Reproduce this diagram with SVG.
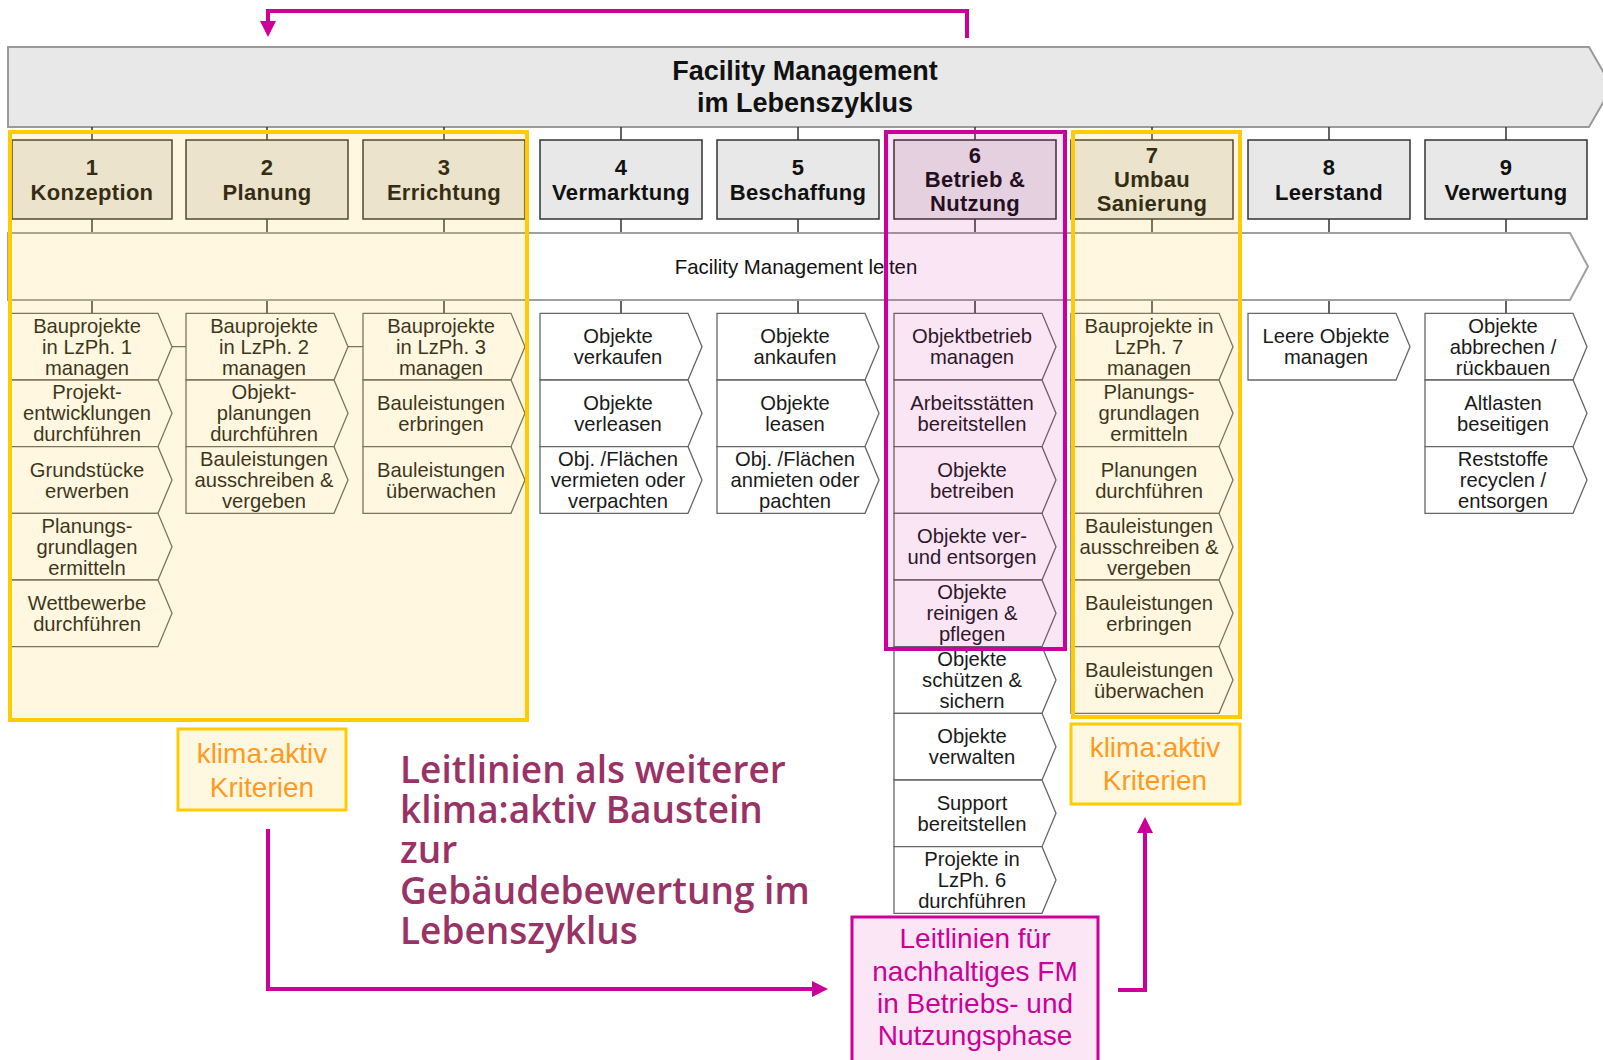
<svg xmlns="http://www.w3.org/2000/svg" width="1603" height="1060" viewBox="0 0 1603 1060">
<defs>
<style>
.hdr{fill:#e8e8e8;stroke:#9a9a9a;stroke-width:2}
.hdrt{font-family:"Liberation Sans",Arial,sans-serif;font-weight:bold;font-size:27px;fill:#111;text-anchor:middle}
.ph{fill:#e8e8e8;stroke:#333;stroke-width:1.5}
.pht{font-family:"Liberation Sans",Arial,sans-serif;font-weight:bold;font-size:22px;letter-spacing:0.3px;fill:#111;text-anchor:middle}
.band{fill:#fff;stroke:#a0a0a0;stroke-width:2}
.bandt{font-family:"Liberation Sans",Arial,sans-serif;font-size:20.4px;fill:#111;text-anchor:middle}
.chev{fill:#fff;stroke:#666;stroke-width:1.3}
.it{font-family:"Liberation Sans",Arial,sans-serif;font-size:20.2px;fill:#1a1a1a;text-anchor:middle}
.tick{stroke:#333;stroke-width:1.5;fill:none}
.lnk{stroke:#666;stroke-width:1.3;fill:none}
.hl-y{fill:#ffca30;fill-opacity:.15;stroke:#ffcc00;stroke-width:4}
.hl-m{fill:#cc0099;fill-opacity:.1;stroke:#cc0099;stroke-width:4}
.ka{fill:#fff8e0;stroke:#ffcc00;stroke-width:3}
.kat{font-family:"Liberation Sans",Arial,sans-serif;font-size:28px;fill:#ff9a1f;text-anchor:middle}
.big{font-family:"Open Sans",sans-serif;font-weight:600;font-size:37px;fill:#993366}
.ll{fill:#fbe6f5;stroke:#cc0099;stroke-width:3}
.llt{font-family:"Liberation Sans",Arial,sans-serif;font-size:28px;fill:#cc0099;text-anchor:middle}
.arr{fill:none;stroke:#cc0099;stroke-width:4;stroke-linejoin:miter;marker-end:url(#ah)}
</style>
<marker id="ah" markerUnits="userSpaceOnUse" markerWidth="16" markerHeight="16" viewBox="0 0 16 16" refX="4" refY="8" orient="auto"><path d="M0,0 L16,8 L0,16 Z" fill="#cc0099"/></marker>
<path id="chev" class="chev" d="M0,0 H148 L162,33.33 L148,66.67 H0 Z"/>
</defs>

<g id="header">
<polygon class="hdr" points="8,47 1589,47 1612,87 1589,127 8,127"/>
<text class="hdrt" x="805" y="80">Facility Management</text>
<text class="hdrt" x="805" y="112">im Lebenszyklus</text>
</g>

<g id="connectors">
<path class="tick" d="M92,127V140M92,219V233M92,300V313 M267,127V140M267,219V233M267,300V313 M444,127V140M444,219V233M444,300V313 M621,127V140M621,219V233M621,300V313 M798,127V140M798,219V233M798,300V313 M975,127V140M975,219V233M975,300V313 M1152,127V140M1152,219V233M1152,300V313 M1329,127V140M1329,219V233M1329,300V313 M1506,127V140M1506,219V233M1506,300V313"/>
<path class="lnk" d="M172,346.7H186 M348,346.7H363"/>
</g>

<g id="phase1"><rect class="ph" x="12" y="140" width="160" height="79"/><text class="pht" x="92" y="175">1</text><text class="pht" x="92" y="200">Konzeption</text></g>
<g id="phase2"><rect class="ph" x="186" y="140" width="162" height="79"/><text class="pht" x="267" y="175">2</text><text class="pht" x="267" y="200">Planung</text></g>
<g id="phase3"><rect class="ph" x="363" y="140" width="162" height="79"/><text class="pht" x="444" y="175">3</text><text class="pht" x="444" y="200">Errichtung</text></g>
<g id="phase4"><rect class="ph" x="540" y="140" width="162" height="79"/><text class="pht" x="621" y="175">4</text><text class="pht" x="621" y="200">Vermarktung</text></g>
<g id="phase5"><rect class="ph" x="717" y="140" width="162" height="79"/><text class="pht" x="798" y="175">5</text><text class="pht" x="798" y="200">Beschaffung</text></g>
<g id="phase6"><rect class="ph" x="894" y="140" width="162" height="79"/><text class="pht" x="975" y="163">6</text><text class="pht" x="975" y="187">Betrieb &amp;</text><text class="pht" x="975" y="211">Nutzung</text></g>
<g id="phase7"><rect class="ph" x="1071" y="140" width="162" height="79"/><text class="pht" x="1152" y="163">7</text><text class="pht" x="1152" y="187">Umbau</text><text class="pht" x="1152" y="211">Sanierung</text></g>
<g id="phase8"><rect class="ph" x="1248" y="140" width="162" height="79"/><text class="pht" x="1329" y="175">8</text><text class="pht" x="1329" y="200">Leerstand</text></g>
<g id="phase9"><rect class="ph" x="1425" y="140" width="162" height="79"/><text class="pht" x="1506" y="175">9</text><text class="pht" x="1506" y="200">Verwertung</text></g>

<g id="fm-leiten">
<polygon class="band" points="8,233 1570,233 1588,266.5 1570,300 8,300"/>
<text class="bandt" x="796" y="274">Facility Management leiten</text>
</g>

<g id="c1-1"><use href="#chev" x="10" y="313.33"/><text class="it"><tspan x="87" y="332.7">Bauprojekte</tspan><tspan x="87" y="353.7">in LzPh. 1</tspan><tspan x="87" y="374.7">managen</tspan></text></g>
<g id="c1-2"><use href="#chev" x="10" y="380"/><text class="it"><tspan x="87" y="399.3">Projekt-</tspan><tspan x="87" y="420.3">entwicklungen</tspan><tspan x="87" y="441.3">durchführen</tspan></text></g>
<g id="c1-3"><use href="#chev" x="10" y="446.67"/><text class="it"><tspan x="87" y="476.5">Grundstücke</tspan><tspan x="87" y="497.5">erwerben</tspan></text></g>
<g id="c1-4"><use href="#chev" x="10" y="513.33"/><text class="it"><tspan x="87" y="532.7">Planungs-</tspan><tspan x="87" y="553.7">grundlagen</tspan><tspan x="87" y="574.7">ermitteln</tspan></text></g>
<g id="c1-5"><use href="#chev" x="10" y="580"/><text class="it"><tspan x="87" y="609.8">Wettbewerbe</tspan><tspan x="87" y="630.8">durchführen</tspan></text></g>

<g id="c2-1"><use href="#chev" x="186" y="313.33"/><text class="it"><tspan x="264" y="332.7">Bauprojekte</tspan><tspan x="264" y="353.7">in LzPh. 2</tspan><tspan x="264" y="374.7">managen</tspan></text></g>
<g id="c2-2"><use href="#chev" x="186" y="380"/><text class="it"><tspan x="264" y="399.3">Objekt-</tspan><tspan x="264" y="420.3">planungen</tspan><tspan x="264" y="441.3">durchführen</tspan></text></g>
<g id="c2-3"><use href="#chev" x="186" y="446.67"/><text class="it"><tspan x="264" y="466">Bauleistungen</tspan><tspan x="264" y="487">ausschreiben &amp;</tspan><tspan x="264" y="508">vergeben</tspan></text></g>

<g id="c3-1"><use href="#chev" x="363" y="313.33"/><text class="it"><tspan x="441" y="332.7">Bauprojekte</tspan><tspan x="441" y="353.7">in LzPh. 3</tspan><tspan x="441" y="374.7">managen</tspan></text></g>
<g id="c3-2"><use href="#chev" x="363" y="380"/><text class="it"><tspan x="441" y="409.8">Bauleistungen</tspan><tspan x="441" y="430.8">erbringen</tspan></text></g>
<g id="c3-3"><use href="#chev" x="363" y="446.67"/><text class="it"><tspan x="441" y="476.5">Bauleistungen</tspan><tspan x="441" y="497.5">überwachen</tspan></text></g>

<g id="c4-1"><use href="#chev" x="540" y="313.33"/><text class="it"><tspan x="618" y="343.2">Objekte</tspan><tspan x="618" y="364.2">verkaufen</tspan></text></g>
<g id="c4-2"><use href="#chev" x="540" y="380"/><text class="it"><tspan x="618" y="409.8">Objekte</tspan><tspan x="618" y="430.8">verleasen</tspan></text></g>
<g id="c4-3"><use href="#chev" x="540" y="446.67"/><text class="it"><tspan x="618" y="466">Obj. /Flächen</tspan><tspan x="618" y="487">vermieten oder</tspan><tspan x="618" y="508">verpachten</tspan></text></g>

<g id="c5-1"><use href="#chev" x="717" y="313.33"/><text class="it"><tspan x="795" y="343.2">Objekte</tspan><tspan x="795" y="364.2">ankaufen</tspan></text></g>
<g id="c5-2"><use href="#chev" x="717" y="380"/><text class="it"><tspan x="795" y="409.8">Objekte</tspan><tspan x="795" y="430.8">leasen</tspan></text></g>
<g id="c5-3"><use href="#chev" x="717" y="446.67"/><text class="it"><tspan x="795" y="466">Obj. /Flächen</tspan><tspan x="795" y="487">anmieten oder</tspan><tspan x="795" y="508">pachten</tspan></text></g>

<g id="c6-1"><use href="#chev" x="894" y="313.33"/><text class="it"><tspan x="972" y="343.2">Objektbetrieb</tspan><tspan x="972" y="364.2">managen</tspan></text></g>
<g id="c6-2"><use href="#chev" x="894" y="380"/><text class="it"><tspan x="972" y="409.8">Arbeitsstätten</tspan><tspan x="972" y="430.8">bereitstellen</tspan></text></g>
<g id="c6-3"><use href="#chev" x="894" y="446.67"/><text class="it"><tspan x="972" y="476.5">Objekte</tspan><tspan x="972" y="497.5">betreiben</tspan></text></g>
<g id="c6-4"><use href="#chev" x="894" y="513.33"/><text class="it"><tspan x="972" y="543.2">Objekte ver-</tspan><tspan x="972" y="564.2">und entsorgen</tspan></text></g>
<g id="c6-5"><use href="#chev" x="894" y="580"/><text class="it"><tspan x="972" y="599.3">Objekte</tspan><tspan x="972" y="620.3">reinigen &amp;</tspan><tspan x="972" y="641.3">pflegen</tspan></text></g>
<g id="c6-6"><use href="#chev" x="894" y="646.67"/><text class="it"><tspan x="972" y="666">Objekte</tspan><tspan x="972" y="687">schützen &amp;</tspan><tspan x="972" y="708">sichern</tspan></text></g>
<g id="c6-7"><use href="#chev" x="894" y="713.33"/><text class="it"><tspan x="972" y="743.2">Objekte</tspan><tspan x="972" y="764.2">verwalten</tspan></text></g>
<g id="c6-8"><use href="#chev" x="894" y="780"/><text class="it"><tspan x="972" y="809.8">Support</tspan><tspan x="972" y="830.8">bereitstellen</tspan></text></g>
<g id="c6-9"><use href="#chev" x="894" y="846.67"/><text class="it"><tspan x="972" y="866">Projekte in</tspan><tspan x="972" y="887">LzPh. 6</tspan><tspan x="972" y="908">durchführen</tspan></text></g>

<g id="c7-1"><use href="#chev" x="1071" y="313.33"/><text class="it"><tspan x="1149" y="332.7">Bauprojekte in</tspan><tspan x="1149" y="353.7">LzPh. 7</tspan><tspan x="1149" y="374.7">managen</tspan></text></g>
<g id="c7-2"><use href="#chev" x="1071" y="380"/><text class="it"><tspan x="1149" y="399.3">Planungs-</tspan><tspan x="1149" y="420.3">grundlagen</tspan><tspan x="1149" y="441.3">ermitteln</tspan></text></g>
<g id="c7-3"><use href="#chev" x="1071" y="446.67"/><text class="it"><tspan x="1149" y="476.5">Planungen</tspan><tspan x="1149" y="497.5">durchführen</tspan></text></g>
<g id="c7-4"><use href="#chev" x="1071" y="513.33"/><text class="it"><tspan x="1149" y="532.7">Bauleistungen</tspan><tspan x="1149" y="553.7">ausschreiben &amp;</tspan><tspan x="1149" y="574.7">vergeben</tspan></text></g>
<g id="c7-5"><use href="#chev" x="1071" y="580"/><text class="it"><tspan x="1149" y="609.8">Bauleistungen</tspan><tspan x="1149" y="630.8">erbringen</tspan></text></g>
<g id="c7-6"><use href="#chev" x="1071" y="646.67"/><text class="it"><tspan x="1149" y="676.5">Bauleistungen</tspan><tspan x="1149" y="697.5">überwachen</tspan></text></g>

<g id="c8-1"><use href="#chev" x="1248" y="313.33"/><text class="it"><tspan x="1326" y="343.2">Leere Objekte</tspan><tspan x="1326" y="364.2">managen</tspan></text></g>

<g id="c9-1"><use href="#chev" x="1425" y="313.33"/><text class="it"><tspan x="1503" y="332.7">Objekte</tspan><tspan x="1503" y="353.7">abbrechen /</tspan><tspan x="1503" y="374.7">rückbauen</tspan></text></g>
<g id="c9-2"><use href="#chev" x="1425" y="380"/><text class="it"><tspan x="1503" y="409.8">Altlasten</tspan><tspan x="1503" y="430.8">beseitigen</tspan></text></g>
<g id="c9-3"><use href="#chev" x="1425" y="446.67"/><text class="it"><tspan x="1503" y="466">Reststoffe</tspan><tspan x="1503" y="487">recyclen /</tspan><tspan x="1503" y="508">entsorgen</tspan></text></g>

<g id="highlight-phases-1-3"><rect class="hl-y" x="10" y="132" width="517" height="588"/></g>
<g id="highlight-phase-6"><rect class="hl-m" x="886" y="132" width="179" height="517"/></g>
<g id="highlight-phase-7"><rect class="hl-y" x="1073" y="132" width="167" height="585"/></g>

<g id="klima-left"><rect class="ka" x="178" y="729" width="168" height="81"/><text class="kat" x="262" y="763">klima:aktiv</text><text class="kat" x="262" y="797">Kriterien</text></g>
<g id="klima-right"><rect class="ka" x="1071" y="724" width="169" height="80"/><text class="kat" x="1155" y="757">klima:aktiv</text><text class="kat" x="1155" y="790">Kriterien</text></g>
<g id="caption"><text class="big"><tspan x="400" y="783">Leitlinien als weiterer</tspan><tspan x="400" y="823">klima:aktiv Baustein</tspan><tspan x="400" y="863">zur</tspan><tspan x="400" y="904">Gebäudebewertung im</tspan><tspan x="400" y="944">Lebenszyklus</tspan></text></g>
<g id="leitlinien"><rect class="ll" x="852" y="917" width="246" height="160"/><text class="llt"><tspan x="975" y="948">Leitlinien für</tspan><tspan x="975" y="981">nachhaltiges FM</tspan><tspan x="975" y="1013">in Betriebs- und</tspan><tspan x="975" y="1045">Nutzungsphase</tspan></text></g>

<g id="arrows">
<path class="arr" d="M967,38 V11 H268 V25"/>
<path class="arr" d="M268,829 V989 H816"/>
<path class="arr" d="M1118,990 H1145 V829"/>
</g>
</svg>
